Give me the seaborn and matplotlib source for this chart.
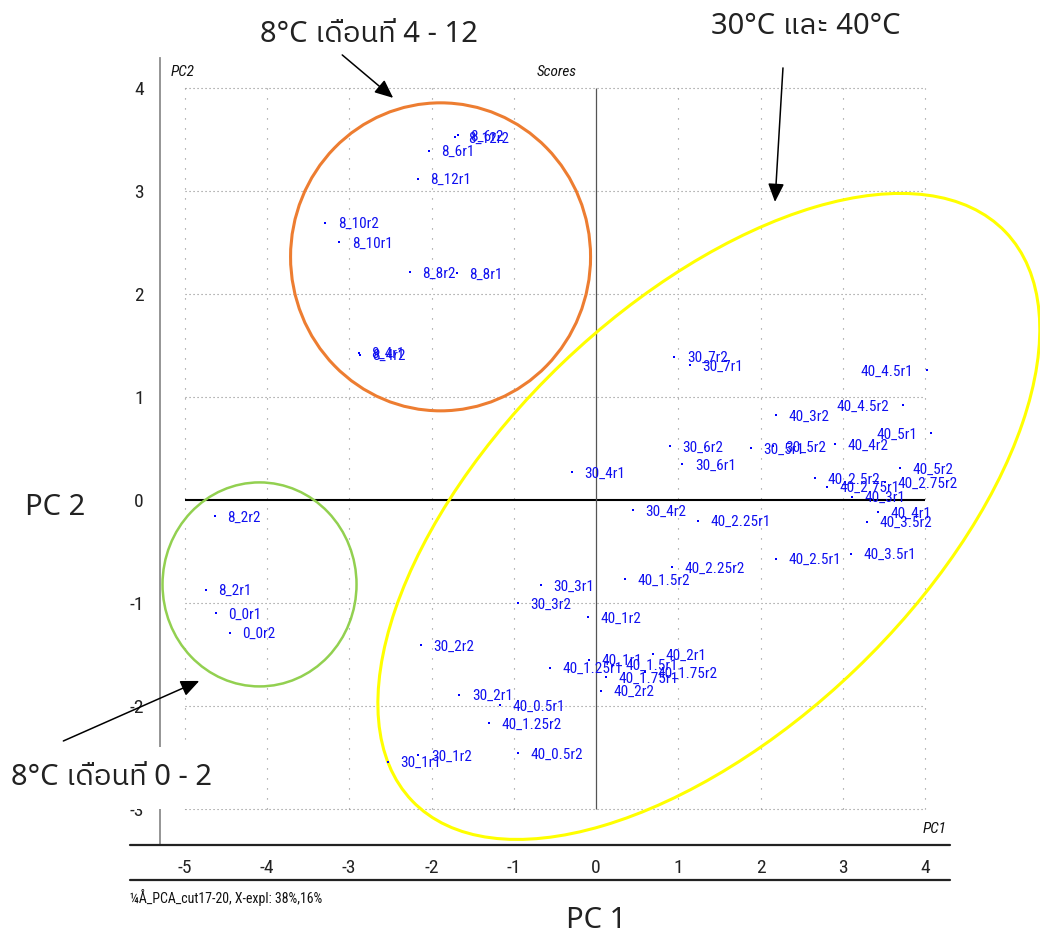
import numpy as np
import pandas as pd
import matplotlib
matplotlib.use("Agg")
import matplotlib.pyplot as plt
from matplotlib import font_manager
from matplotlib.ft2font import FT2Font
from matplotlib.patches import Ellipse
from matplotlib.transforms import ScaledTranslation
from matplotlib.ticker import MultipleLocator
import seaborn as sns

# PCA scores (PC1, PC2) for each stored sample: <temp>_<month>r<replicate>
samples = [
    "0_0r1", "0_0r2",
    "8_2r1", "8_2r2", "8_4r1", "8_4r2", "8_6r1", "8_6r2",
    "8_8r1", "8_8r2", "8_10r1", "8_10r2", "8_12r1", "8_12r2",
    "30_1r1", "30_1r2", "30_2r1", "30_2r2", "30_3r1", "30_3r2",
    "30_4r1", "30_4r2", "30_5r1", "30_5r2", "30_6r1", "30_6r2",
    "30_7r1", "30_7r2",
    "40_0.5r1", "40_0.5r2", "40_1r1", "40_1r2", "40_1.25r1", "40_1.25r2",
    "40_1.5r1", "40_1.5r2", "40_1.75r1", "40_1.75r2", "40_2r1", "40_2r2",
    "40_2.25r1", "40_2.25r2", "40_2.5r1", "40_2.5r2", "40_2.75r1", "40_2.75r2",
    "40_3r1", "40_3r2", "40_3.5r1", "40_3.5r2", "40_4r1", "40_4r2",
    "40_4.5r1", "40_4.5r2", "40_5r1", "40_5r2",
]
pc1 = [
    -4.62, -4.45,
    -4.74, -4.63, -2.88, -2.87, -2.03, -1.68,
    -1.69, -2.26, -3.12, -3.29, -2.17, -1.71,
    -2.53, -2.16, -1.66, -2.13, -0.67, -0.95,
    -0.29, 0.45, 1.88, 2.15, 1.05, 0.90,
    1.14, 0.95,
    -1.17, -0.95, -0.09, -0.10, -0.56, -1.30,
    0.20, 0.35, 0.12, 0.60, 0.69, 0.06,
    1.24, 0.92, 2.19, 2.66, 2.81, 3.51,
    3.11, 2.19, 3.10, 3.29, 3.43, 2.90,
    4.02, 3.73, 4.07, 3.69,
]
pc2 = [
    -1.10, -1.29,
    -0.87, -0.16, 1.43, 1.41, 3.39, 3.54,
    2.20, 2.21, 2.50, 2.69, 3.12, 3.52,
    -2.54, -2.48, -1.89, -1.41, -0.83, -1.00,
    0.27, -0.10, 0.50, 0.52, 0.35, 0.52,
    1.31, 1.39,
    -1.99, -2.46, -1.55, -1.14, -1.63, -2.17,
    -1.60, -0.77, -1.72, -1.67, -1.50, -1.85,
    -0.20, -0.65, -0.57, 0.21, 0.13, 0.17,
    0.03, 0.82, -0.52, -0.21, -0.12, 0.54,
    1.26, 0.92, 0.65, 0.31,
]
caption = "¼Å_PCA_cut17-20, X-expl: 38%,16%"

df = pd.DataFrame({"sample": samples, "PC1": pc1, "PC2": pc2})

TTF = font_manager.fontManager.ttflist


def narrow_font():
    """Pick the narrowest sans face on the system; returns (family, stretch)."""
    names = {f.name for f in TTF}
    for name in ("Liberation Sans Narrow", "Arial Narrow", "Roboto Condensed",
                 "Noto Sans ExtraCondensed", "Noto Sans Condensed",
                 "Open Sans Condensed", "DejaVu Sans Condensed"):
        if name in names:
            return name, "normal"
    for want in ("extra-condensed", "condensed", "semi-condensed"):
        for fam in ("Noto Sans", "Open Sans", "Roboto", "Inter", "DejaVu Sans"):
            if any(f.name == fam and str(f.stretch) == want for f in TTF):
                return fam, want
    return "Liberation Sans", "normal"


def thai_family():
    found = []
    for f in TTF:
        try:
            if 0x0E14 in FT2Font(f.fname).get_charmap():
                found.append(f.name)
        except Exception:
            continue
    for name in found:
        if "Thai" in name and "Looped" not in name:
            return name
    return found[0] if found else "DejaVu Sans"


sns.set_style("white")
narrow, narrow_stretch = narrow_font()
thai = thai_family()
note_family = ["Noto Sans", thai, "DejaVu Sans"]
plt.rcParams["font.family"] = [narrow, "DejaVu Sans"]
plt.rcParams["font.stretch"] = narrow_stretch
plt.rcParams["axes.unicode_minus"] = False

fig = plt.figure(figsize=(10.4, 9.36), dpi=100)
ax = fig.add_axes([0.1538, 0.0972, 0.7596, 0.8408])

# dotted grid, solid zero lines
grid_x = np.arange(-5, 5)
grid_y = np.arange(-3, 5)
ax.vlines(grid_x[grid_x != 0], -3, 4, colors="#8a8a8a", linestyles=(0, (1, 8)), lw=0.8, zorder=1)
ax.hlines(grid_y[grid_y != 0], -5, 4, colors="#8a8a8a", linestyles=(0, (1, 2.6)), lw=0.8, zorder=1)
ax.hlines(0, -5, 4, colors="black", lw=1.5, zorder=1.2)
ax.vlines(0, -3, 4, colors="#555555", lw=0.9, zorder=1.2)

sns.scatterplot(data=df, x="PC1", y="PC2", color="#0000ff", s=3, marker="s",
                linewidth=0, legend=False, ax=ax, zorder=3)

for name, x, y in zip(samples, pc1, pc2):
    left = x > 3.7
    ax.annotate(name, (x, y), xytext=(-10 if left else 9, 0), textcoords="offset points",
                ha="right" if left else "left", va="center_baseline",
                color="#1010f0", fontsize=11, zorder=3)


def outline(cx, cy, w_in, h_in, angle, color, lw):
    tr = fig.dpi_scale_trans + ScaledTranslation(cx, cy, ax.transData)
    ax.add_artist(Ellipse((0, 0), w_in, h_in, angle=angle, fill=False,
                          edgecolor=color, lw=lw, transform=tr, clip_on=False, zorder=2))


outline(-1.89, 2.36, 3.00, 3.08, 0, "#ed7d31", 2.2)
outline(-4.09, -0.82, 1.94, 2.04, 0, "#92d050", 1.8)
outline(1.37, -0.16, 8.22, 4.24, 43.8, "#ffff00", 2.2)

ax.set_xlim(-5.3, 4.3)
ax.set_ylim(-3.35, 4.29)
ax.set_xlabel("")
ax.set_ylabel("")

for side in ("top", "right", "bottom"):
    ax.spines[side].set_visible(False)
ax.spines["left"].set_color("#8c8c8c")
ax.spines["left"].set_linewidth(1.3)

ax.xaxis.set_major_locator(MultipleLocator(1))
ax.xaxis.set_minor_locator(MultipleLocator(0.1))
ax.yaxis.set_major_locator(MultipleLocator(1))
ax.yaxis.set_minor_locator(MultipleLocator(0.1))
ax.tick_params(axis="x", which="major", direction="out", length=8, width=1.0,
               color="black", labelsize=14, pad=2)
ax.tick_params(axis="x", which="minor", direction="out", length=3.5, width=0.7, color="black")
ax.tick_params(axis="y", which="major", direction="out", length=8, width=1.0,
               color="#333333", labelsize=14, pad=3.5)
ax.tick_params(axis="y", which="minor", direction="out", length=3.5, width=0.7, color="#333333")
ax.tick_params(labelcolor="#222222")

# framed bottom axis band
for yy in (-3.35, -3.69):
    ax.plot([-5.66, 4.3], [yy, yy], color="#222222", lw=1.6, clip_on=False, zorder=4)

ax.text(-5.17, 4.15, "PC2", fontsize=11, style="italic", ha="left", va="center", color="#111111")
ax.text(-0.48, 4.15, "Scores", fontsize=11, style="italic", ha="center", va="center", color="#111111")
ax.text(4.11, -3.19, "PC1", fontsize=11, style="italic", ha="center", va="center", color="#111111")
ax.text(-5.66, -3.86, caption, fontsize=10, ha="left", va="center", color="#111111")

# axis names and group annotations
note = dict(fontsize=21, family=note_family, fontstretch="normal", ha="center",
            va="center", color="#222222", clip_on=False)
ax.text(0.0, -4.08, "PC 1", **note)
ax.text(-6.57, -0.07, "PC 2", **note)

arrow = dict(arrowstyle="-|>,head_length=0.8,head_width=0.35", color="black", lw=1.1,
             mutation_scale=14, shrinkA=0, shrinkB=0)
ax.annotate("", xy=(-2.466, 3.903), xytext=(-3.085, 4.32), arrowprops=arrow, annotation_clip=False)
ax.annotate("", xy=(2.174, 2.893), xytext=(2.271, 4.194), arrowprops=arrow, annotation_clip=False)
ax.annotate("", xy=(-4.822, -1.757), xytext=(-6.474, -2.34), arrowprops=arrow, annotation_clip=False)

ax.text(-2.757, 4.515, "8°C เดือนที่ 4 - 12", **note)
ax.text(2.551, 4.592, "30°C และ 40°C", **note)
ax.text(-5.891, -2.699, "8°C เดือนที่ 0 - 2", zorder=5,
        bbox=dict(facecolor="white", edgecolor="none", pad=12), **note)

fig.savefig("out.png", dpi=100)
